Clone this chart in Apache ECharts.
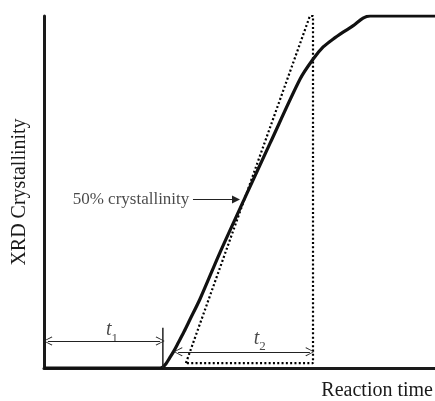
<!DOCTYPE html>
<html>
<head>
<meta charset="utf-8">
<script src="https://cdn.jsdelivr.net/npm/echarts@6/dist/echarts.min.js"></script>
<style>
  html, body { margin: 0; padding: 0; background: #fff; }
  #chart { width: 435px; height: 401px; }
</style>
</head>
<body>
<div id="chart"></div>
<script>
// 结晶度曲线 (x: 反应时间 0-100, y: 结晶度 %)
var curveX = [0, 29.7, 30.4, 31.2, 32.1, 33.2, 34.3, 35.8, 37.3, 39.9, 45.0, 51.4, 57.8, 65.5, 68.8, 71.4, 73.9, 76.5, 79.0, 81.6, 83.4, 100];
var curveY = [0, 0, 0.3, 1.2, 2.8, 4.8, 7.1, 10.3, 13.7, 19.6, 32.8, 48.4, 63.8, 82.1, 87.7, 91.2, 93.4, 95.4, 97.2, 99.4, 100, 100];

// 切线三角形（虚线）
var tangentX = [36.3, 68.0, 68.8, 68.8, 36.3];
var tangentY = [1.4, 100, 100, 1.4, 1.4];

// t1, t2 区间
var t1Range = [1.0, 29.7];
var t1Level = 7.7;
var t1Marker = [30.4, 0, 11.4];   // 竖线: x, 下端, 上端
var t2Range = [34.3, 68.0];
var t2Level = 4.6;

// 标注
var halfPoint = [38.1, 50.1, 47.9]; // 箭头起点x, 终点x, y
var labelText = '50% crystallinity';
var t1Label = [17.4, 10.8];
var t2Label = [55.2, 8.4];

var FONT = 'Liberation Serif';
var openArrow = 'path://M0,0 L6,10 L5,10.8 L0,1.6 L-5,10.8 L-6,10 Z';

function zip(xs, ys) {
  return xs.map(function (x, i) { return [x, ys[i]]; });
}

var myChart = echarts.init(document.getElementById('chart'));

var option = {
  animation: false,
  grid: { left: 44, right: 0, top: 16, bottom: 33 },
  xAxis: {
    type: 'value', min: 0, max: 100,
    axisLine: { lineStyle: { color: '#1a1a1a', width: 3 } },
    axisTick: { show: false }, axisLabel: { show: false }, splitLine: { show: false }
  },
  yAxis: {
    type: 'value', min: 0, max: 100,
    name: 'XRD Crystallinity',
    nameLocation: 'middle', nameRotate: 90, nameGap: 14,
    nameTextStyle: { fontFamily: FONT, fontSize: 20, color: '#1a1a1a' },
    axisLine: { show: true, lineStyle: { color: '#1a1a1a', width: 3 } },
    axisTick: { show: false }, axisLabel: { show: false }, splitLine: { show: false }
  },
  graphic: [{
    type: 'text', right: 2, top: 381,
    style: { text: 'Reaction time', font: '20px "Liberation Serif"', fill: '#1a1a1a' }
  }],
  series: [
    {
      // 虚线切线
      type: 'line', data: zip(tangentX, tangentY), symbol: 'none',
      lineStyle: { color: '#000', width: 2.2, type: [2, 2.3] }, z: 2
    },
    {
      type: 'line', data: zip(curveX, curveY), symbol: 'none', smooth: 0.3,
      lineStyle: { color: '#111', width: 3.2 }, z: 3
    },
    {
      // t1 竖线
      type: 'line', data: [[t1Marker[0], t1Marker[1]], [t1Marker[0], t1Marker[2]]], symbol: 'none',
      lineStyle: { color: '#222', width: 1.5 }, z: 3
    },
    {
      // 双向箭头
      type: 'lines', coordinateSystem: 'cartesian2d',
      symbol: [openArrow, openArrow], symbolSize: [9, 9],
      lineStyle: { color: '#222', width: 1.2, opacity: 1 },
      data: [
        { coords: [[t1Range[0], t1Level], [t1Range[1], t1Level]] },
        { coords: [[t2Range[0], t2Level], [t2Range[1], t2Level]] }
      ], z: 4
    },
    {
      type: 'lines', coordinateSystem: 'cartesian2d',
      symbol: ['none', 'triangle'], symbolSize: [6, 8],
      lineStyle: { color: '#222', width: 1.2, opacity: 1 },
      data: [{ coords: [[halfPoint[0], halfPoint[2]], [halfPoint[1] - 1.0, halfPoint[2]]] }], z: 4
    },
    {
      type: 'scatter', symbolSize: 1, itemStyle: { color: 'rgba(0,0,0,0)' },
      label: {
        show: true, color: '#1a1a1a', fontFamily: FONT,
        formatter: function (p) { return p.data.text; },
        rich: {
          t: { fontFamily: FONT, fontStyle: 'italic', fontSize: 20, color: '#1a1a1a' },
          s: { fontFamily: FONT, fontSize: 13, color: '#1a1a1a', verticalAlign: 'bottom', padding: [0, 0, -5, 0] }
        }
      },
      data: [
        { value: [halfPoint[0] - 0.3, halfPoint[2]], text: labelText,
          label: { position: 'left', distance: 2, fontSize: 17 } },
        { value: t1Label, text: '{t|t}{s|1}', label: { position: 'inside' } },
        { value: t2Label, text: '{t|t}{s|2}', label: { position: 'inside' } }
      ], z: 5
    }
  ]
};
myChart.setOption(option);
</script>
</body>
</html>
